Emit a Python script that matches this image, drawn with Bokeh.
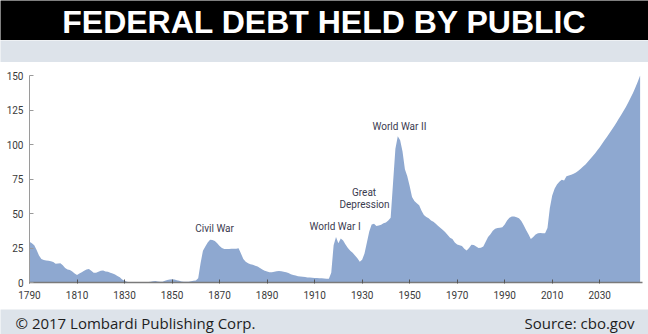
from bokeh.plotting import figure
from bokeh.layouts import column
from bokeh.models import Range1d, FixedTicker
from bokeh.core.properties import value
from bokeh.embed import file_html
from bokeh.resources import INLINE

# ---------------- data ----------------
years = list(range(1790, 2048))
debt = [
    # 1790s
    29.5, 28.5, 27.0, 23.5, 19.5, 17.0, 16.3, 16.0, 15.8, 15.4,
    # 1800s
    14.8, 13.5, 13.8, 14.0, 12.5, 10.5, 9.5, 9.0, 8.0, 6.5,
    # 1810s
    5.5, 6.5, 7.5, 8.5, 9.5, 9.8, 8.5, 7.0, 7.0, 7.8,
    # 1820s
    8.5, 8.7, 8.0, 7.8, 7.0, 6.5, 5.8, 4.8, 3.8, 2.2,
    # 1830s
    1.2, 0.5, 0.1, 0.0, 0.0, 0.0, 0.0, 0.1, 0.2, 0.2,
    # 1840s
    0.3, 0.6, 0.9, 1.0, 0.7, 0.5, 0.6, 1.2, 1.8, 2.2,
    # 1850s
    2.4, 2.1, 1.7, 1.2, 0.8, 0.6, 0.5, 0.6, 0.9, 1.2,
    # 1860s
    1.5, 3.0, 14.0, 23.0, 26.0, 29.0, 31.0, 30.8, 30.0, 28.5,
    # 1870s
    26.5, 25.0, 24.3, 24.3, 24.2, 24.4, 24.5, 24.4, 24.8, 21.0,
    # 1880s
    17.0, 15.0, 14.0, 13.2, 12.8, 12.2, 11.6, 10.5, 9.5, 8.6,
    # 1890s
    7.9, 7.5, 7.4, 7.7, 8.1, 8.3, 8.1, 7.8, 7.5, 6.8,
    # 1900s
    6.0, 5.4, 5.0, 4.6, 4.3, 4.1, 3.9, 3.7, 3.6, 3.4,
    # 1910s
    3.3, 3.2, 3.1, 3.0, 2.9, 2.8, 2.7, 7.0, 27.0, 33.0,
    # 1920s
    28.5, 31.8, 30.5, 27.5, 25.0, 23.0, 21.5, 19.5, 17.5, 15.0,
    # 1930s
    16.5, 21.0, 29.0, 37.0, 42.0, 42.5, 41.0, 41.3, 41.8, 43.0,
    # 1940s
    43.5, 45.0, 47.0, 72.0, 97.0, 106.0, 103.0, 95.0, 82.0, 77.0,
    # 1950s
    70.0, 62.0, 59.0, 57.5, 56.0, 52.0, 49.0, 47.5, 46.5, 45.0,
    # 1960s
    44.0, 42.5, 41.0, 39.5, 38.0, 36.5, 34.5, 32.5, 31.5, 29.0,
    # 1970s
    27.5, 27.0, 26.5, 24.5, 23.2, 25.0, 27.3, 27.2, 26.0, 25.0,
    # 1980s
    25.2, 26.0, 29.5, 33.0, 35.0, 37.5, 38.9, 39.5, 39.6, 40.0,
    # 1990s
    42.0, 45.0, 47.0, 47.8, 47.8, 47.3, 46.5, 44.5, 41.5, 38.0,
    # 2000s
    35.0, 31.6, 33.0, 34.8, 35.7, 35.8, 35.6, 35.7, 39.5, 54.0,
    # 2010s
    63.0, 68.0, 71.0, 73.0, 74.5, 74.0, 77.0, 77.5, 78.0, 78.8,
    # 2020s
    79.8, 81.0, 82.5, 84.0, 85.5, 87.5, 89.5, 91.5, 93.5, 95.8,
    # 2030s
    98.0, 100.5, 103.0, 105.5, 108.0, 110.5, 113.0, 115.8, 118.6, 121.4,
    # 2040s
    124.2, 127.2, 130.4, 133.8, 137.4, 141.3, 145.5, 150.0,
]

x_ticks = [1790, 1810, 1830, 1850, 1870, 1890, 1910, 1930, 1950, 1970, 1990, 2010, 2030]
y_ticks = [0, 25, 50, 75, 100, 125, 150]

event_labels = ["Civil War", "World War I", "Great", "Depression", "World War II"]
event_x = [1867.9, 1918.6, 1930.8, 1931.0, 1945.7]
event_y = [39.0, 40.6, 65.0, 56.5, 113.0]

title_text = "FEDERAL DEBT HELD BY PUBLIC"
footer_left = "\u00a9 2017 Lombardi Publishing Corp."
footer_right = "Source: cbo.gov"

W = 648
BAND = "#dde3ea"
FILL = "#8ea8d0"
LABEL_FONT = "Roboto"


def strip(height, color):
    s = figure(width=W, height=height, x_range=Range1d(0, W),
               y_range=Range1d(height, 0), x_axis_type=None, y_axis_type=None,
               output_backend="svg", toolbar_location=None, min_border=0,
               frame_align=False)
    s.grid.visible = False
    s.outline_line_color = None
    s.background_fill_color = color
    s.border_fill_color = color
    return s


# ---------------- title bar ----------------
t = strip(40, "black")
t.text(x=[W / 2], y=[21], text=[title_text], text_color="white",
       text_font=value("Liberation Sans"), text_font_style="bold", text_font_size="32px",
       text_align="center", text_baseline="middle")

band = strip(22, BAND)

# ---------------- main chart ----------------
p = figure(width=W, height=247, x_range=Range1d(1790, 2048), y_range=Range1d(0, 150),
           output_backend="svg", toolbar_location=None, frame_align=False,
           min_border_left=29, min_border_right=6,
           min_border_top=13, min_border_bottom=27)
p.grid.visible = False
p.outline_line_color = None
p.background_fill_color = "white"
p.border_fill_color = "white"

p.varea(x=years, y1=0, y2=debt, fill_color=FILL)

p.xaxis.ticker = FixedTicker(ticks=x_ticks)
p.yaxis.ticker = FixedTicker(ticks=y_ticks)
for ax in (p.xaxis, p.yaxis):
    ax.major_label_text_font = LABEL_FONT
    ax.major_label_text_font_size = "10px"
    ax.major_label_text_color = "#3a3a3a"
    ax.minor_tick_line_color = None
    ax.major_tick_line_color = "#555555"
p.xaxis.axis_line_color = "#7a7a7a"
p.xaxis.axis_line_width = 1.5
p.xaxis.major_tick_in = 3
p.xaxis.major_tick_out = 1
p.xaxis.major_label_standoff = 7
p.yaxis.axis_line_color = "#9a9a9a"
p.yaxis.major_tick_line_color = "#9a9a9a"
p.yaxis.major_tick_in = 4
p.yaxis.major_tick_out = 0
p.yaxis.major_label_standoff = 6

p.text(x=event_x, y=event_y, text=event_labels, text_color="#3b3b4f",
       text_font=value(LABEL_FONT), text_font_size="10px",
       text_align="center", text_baseline="middle")

# ---------------- footer ----------------
f = strip(25, BAND)
f.text(x=[15], y=[13], text=[footer_left], text_color="#1e1e1e",
       text_font=value("Open Sans"), text_font_size="15px",
       text_align="left", text_baseline="middle")
f.text(x=[634], y=[13], text=[footer_right], text_color="#1e1e1e",
       text_font=value("Open Sans"), text_font_size="15px",
       text_align="right", text_baseline="middle")

layout = column(t, band, p, f, spacing=0)
open("out.html", "w").write(file_html(layout, INLINE))
